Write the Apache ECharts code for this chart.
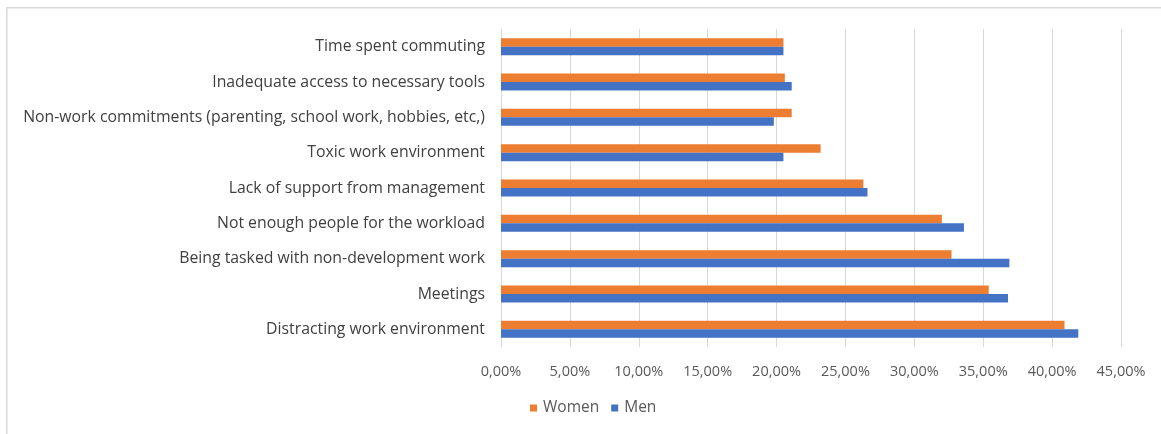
<!DOCTYPE html>
<html><head><meta charset="utf-8">
<script src="https://cdn.jsdelivr.net/npm/echarts@6/dist/echarts.min.js"></script>
<style>html,body{margin:0;padding:0;background:#fff}#c{width:1161px;height:434px}</style>
</head><body><div id="c"></div>
<script>
const categories = [
  "Distracting work environment",
  "Meetings",
  "Being tasked with non-development work",
  "Not enough people for the workload",
  "Lack of support from management",
  "Toxic work environment",
  "Non-work commitments (parenting, school work, hobbies, etc,)",
  "Inadequate access to necessary tools",
  "Time spent commuting"
];
const women = [40.9, 35.4, 32.7, 32.0, 26.3, 23.2, 21.1, 20.6, 20.5];
const men   = [41.9, 36.8, 36.9, 33.6, 26.6, 20.5, 19.8, 21.1, 20.5];
const xTicks = { min: 0, max: 45, interval: 5 };

const font = "'Open Sans', 'Liberation Sans', sans-serif";
const chart = echarts.init(document.getElementById('c'), null, {renderer: 'canvas'});
chart.setOption({
  animation: false,
  textStyle: { fontFamily: font },
  graphic: [{
    type: 'rect', left: 6, top: 7, z: -10,
    shape: { width: 1200, height: 500 },
    style: { fill: '#fff', stroke: '#d9d9d9', lineWidth: 1.5 }
  }],
  grid: { left: 501, right: 40, top: 29, bottom: 87, containLabel: false },
  legend: {
    bottom: 13, left: 525,
    data: ['Women', 'Men'],
    itemWidth: 7, itemHeight: 7, itemGap: 12,
    icon: 'rect',
    textStyle: { color: '#595959', fontSize: 15.5, fontFamily: font, padding: [0, 0, 0, 1] }
  },
  xAxis: {
    type: 'value', min: xTicks.min, max: xTicks.max, interval: xTicks.interval,
    axisLine: { show: false }, axisTick: { show: false },
    splitLine: { lineStyle: { color: '#d9d9d9', width: 1 } },
    axisLabel: {
      color: '#595959', fontSize: 14.5, margin: 17,
      formatter: v => v.toFixed(2).replace('.', ',') + '%'
    }
  },
  yAxis: {
    type: 'category', data: categories,
    axisLine: { show: true, lineStyle: { color: '#d9d9d9' } },
    axisTick: { show: false },
    axisLabel: { color: '#404040', fontSize: 15.8, margin: 16 }
  },
  series: [
    { name: 'Women', type: 'bar', data: women, barWidth: 8.5, barGap: '0%',
      itemStyle: { color: '#ED7D31' }, z: 3 },
    { name: 'Men', type: 'bar', data: men, barWidth: 8.5, barGap: '0%',
      itemStyle: { color: '#4472C4' }, z: 3 }
  ]
});
</script></body></html>
